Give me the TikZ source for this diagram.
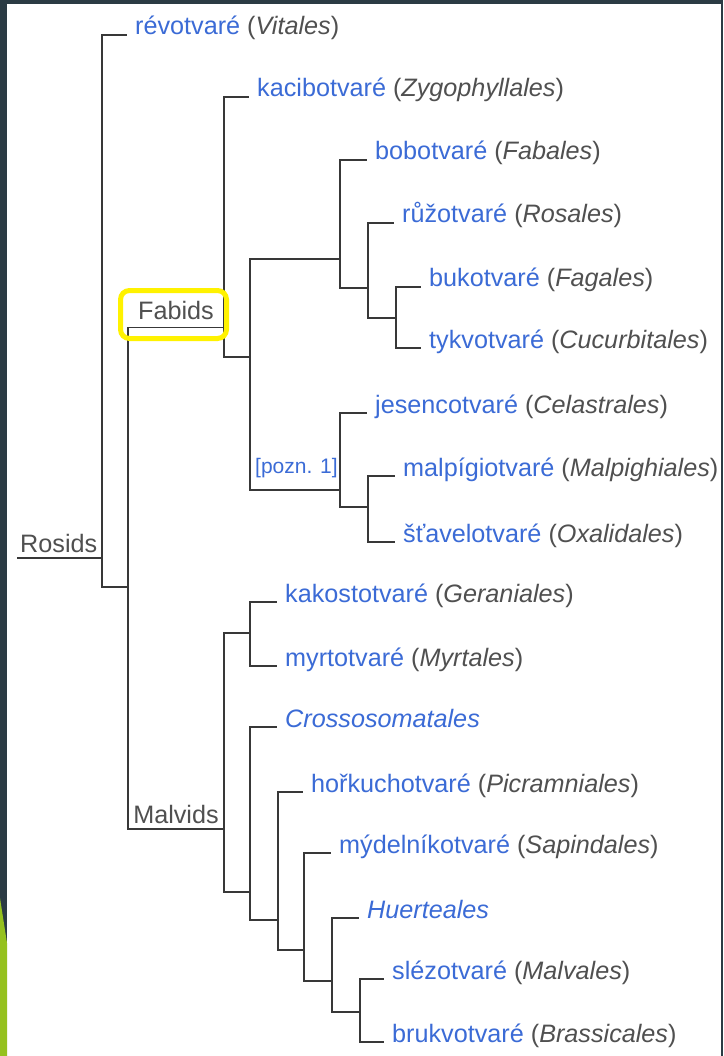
\documentclass[tikz,border=0pt]{standalone}
\usepackage{fontspec}
\setmainfont{Liberation Sans}
\definecolor{frame}{HTML}{2B3B44}
\definecolor{leafgreen}{HTML}{95C11F}
\definecolor{wikilink}{HTML}{3B6BD6}
\definecolor{latin}{HTML}{505050}
\definecolor{branch}{HTML}{383838}
\newcommand{\taxon}[2]{\textcolor{wikilink}{#1} \textcolor{latin}{(\textit{#2})}}

\begin{document}
\begin{tikzpicture}[x=1pt,y=-1pt,
			every node/.style = {font=\fontsize{25.2}{29}\selectfont},
			leaf/.style = {anchor=base west, inner xsep=8pt, inner ysep=0pt},
			group/.style = {anchor=base, inner sep=0pt, text=latin},
			link/.style = {draw=branch, line width=1.5pt},
			hilite/.style = {draw=yellow, line width=5pt, rounded corners=9pt}]
			\fill[frame] (0,0) rectangle (723,1056);
			\fill[white] (7,4) rectangle (721,1056);
			\fill[leafgreen] (0,898) -- (7,943) -- (7,1056) -- (0,1056) -- cycle;
			\useasboundingbox (0,0) rectangle (723,1056);
			% leaves
			\node[leaf] (revot) at (127,35) {\taxon{révotvaré}{Vitales}};
			\node[leaf] (kacib) at (249,97) {\taxon{kacibotvaré}{Zygophyllales}};
			\node[leaf] (bobot) at (367,160) {\taxon{bobotvaré}{Fabales}};
			\node[leaf] (ruzot) at (394,223) {\taxon{růžotvaré}{Rosales}};
			\node[leaf] (bukot) at (421,287) {\taxon{bukotvaré}{Fagales}};
			\node[leaf] (tykvo) at (421,348) {\taxon{tykvotvaré}{Cucurbitales}};
			\node[leaf] (jesen) at (367,413) {\taxon{jesencotvaré}{Celastrales}};
			\node[leaf] (malpi) at (395,476) {\taxon{malpígiotvaré}{Malpighiales}};
			\node[leaf] (stave) at (395,542) {\taxon{šťavelotvaré}{Oxalidales}};
			\node[leaf] (kakos) at (277,602) {\taxon{kakostotvaré}{Geraniales}};
			\node[leaf] (myrto) at (277,666) {\taxon{myrtotvaré}{Myrtales}};
			\node[leaf] (cross) at (277,727) {\textcolor{wikilink}{\textit{Crossosomatales}}};
			\node[leaf] (horku) at (303,792) {\taxon{hořkuchotvaré}{Picramniales}};
			\node[leaf] (mydel) at (331,853) {\taxon{mýdelníkotvaré}{Sapindales}};
			\node[leaf] (huert) at (359,918) {\textcolor{wikilink}{\textit{Huerteales}}};
			\node[leaf] (slezo) at (384,979) {\taxon{slézotvaré}{Malvales}};
			\node[leaf] (brukv) at (384,1042) {\taxon{brukvotvaré}{Brassicales}};
			% clade names
			\node[group, anchor=base west] (rosids) at (20,552) {Rosids};
			\node[group] (fabids) at (176,319) {Fabids};
			\node[group] (malvids) at (176,823) {Malvids};
			\node[anchor=base west, inner sep=0pt, text=wikilink, font=\fontsize{21}{24}\selectfont] (pozn) at (255,473) {[pozn. 1]};
			% junctions
			\coordinate (rosroot) at (17,558);
			\coordinate (rosj) at (102,558);
			\coordinate (corej) at (128,587);
			\coordinate (fabj) at (224,327.5);
			\coordinate (malj) at (224,829);
			\coordinate (fabcore) at (250,357);
			\coordinate (fabalj) at (340,259);
			\coordinate (rosalj) at (368,288);
			\coordinate (fagj) at (396,318);
			\coordinate (celj) at (340,490);
			\coordinate (malpj) at (368,507);
			\coordinate (gerj) at (250,633);
			\coordinate (crossj) at (250,892);
			\coordinate (horj) at (278,920);
			\coordinate (mydj) at (304,950);
			\coordinate (huej) at (332,981);
			\coordinate (malvj) at (360,1012);
			\draw[link] (rosroot) -- (rosj);
			\draw[link] (rosj) |- (revot.base west);
			\draw[link] (rosj) |- (corej);
			\draw[link] (corej) |- (fabj);
			\draw[link] (corej) |- (malj);
			\draw[link] (fabj) |- (kacib.base west);
			\draw[link] (fabj) |- (fabcore);
			\draw[link] (fabcore) |- (fabalj);
			\draw[link] (fabcore) |- (celj);
			\draw[link] (fabalj) |- (bobot.base west);
			\draw[link] (fabalj) |- (rosalj);
			\draw[link] (rosalj) |- (ruzot.base west);
			\draw[link] (rosalj) |- (fagj);
			\draw[link] (fagj) |- (bukot.base west);
			\draw[link] (fagj) |- (tykvo.base west);
			\draw[link] (celj) |- (jesen.base west);
			\draw[link] (celj) |- (malpj);
			\draw[link] (malpj) |- (malpi.base west);
			\draw[link] (malpj) |- (stave.base west);
			\draw[link] (malj) |- (gerj);
			\draw[link] (malj) |- (crossj);
			\draw[link] (gerj) |- (kakos.base west);
			\draw[link] (gerj) |- (myrto.base west);
			\draw[link] (crossj) |- (cross.base west);
			\draw[link] (crossj) |- (horj);
			\draw[link] (horj) |- (horku.base west);
			\draw[link] (horj) |- (mydj);
			\draw[link] (mydj) |- (mydel.base west);
			\draw[link] (mydj) |- (huej);
			\draw[link] (huej) |- (huert.base west);
			\draw[link] (huej) |- (malvj);
			\draw[link] (malvj) |- (slezo.base west);
			\draw[link] (malvj) |- (brukv.base west);
			\draw[hilite] (120.5,290.5) rectangle (226.5,338.5);
		\end{tikzpicture}
\end{document}
